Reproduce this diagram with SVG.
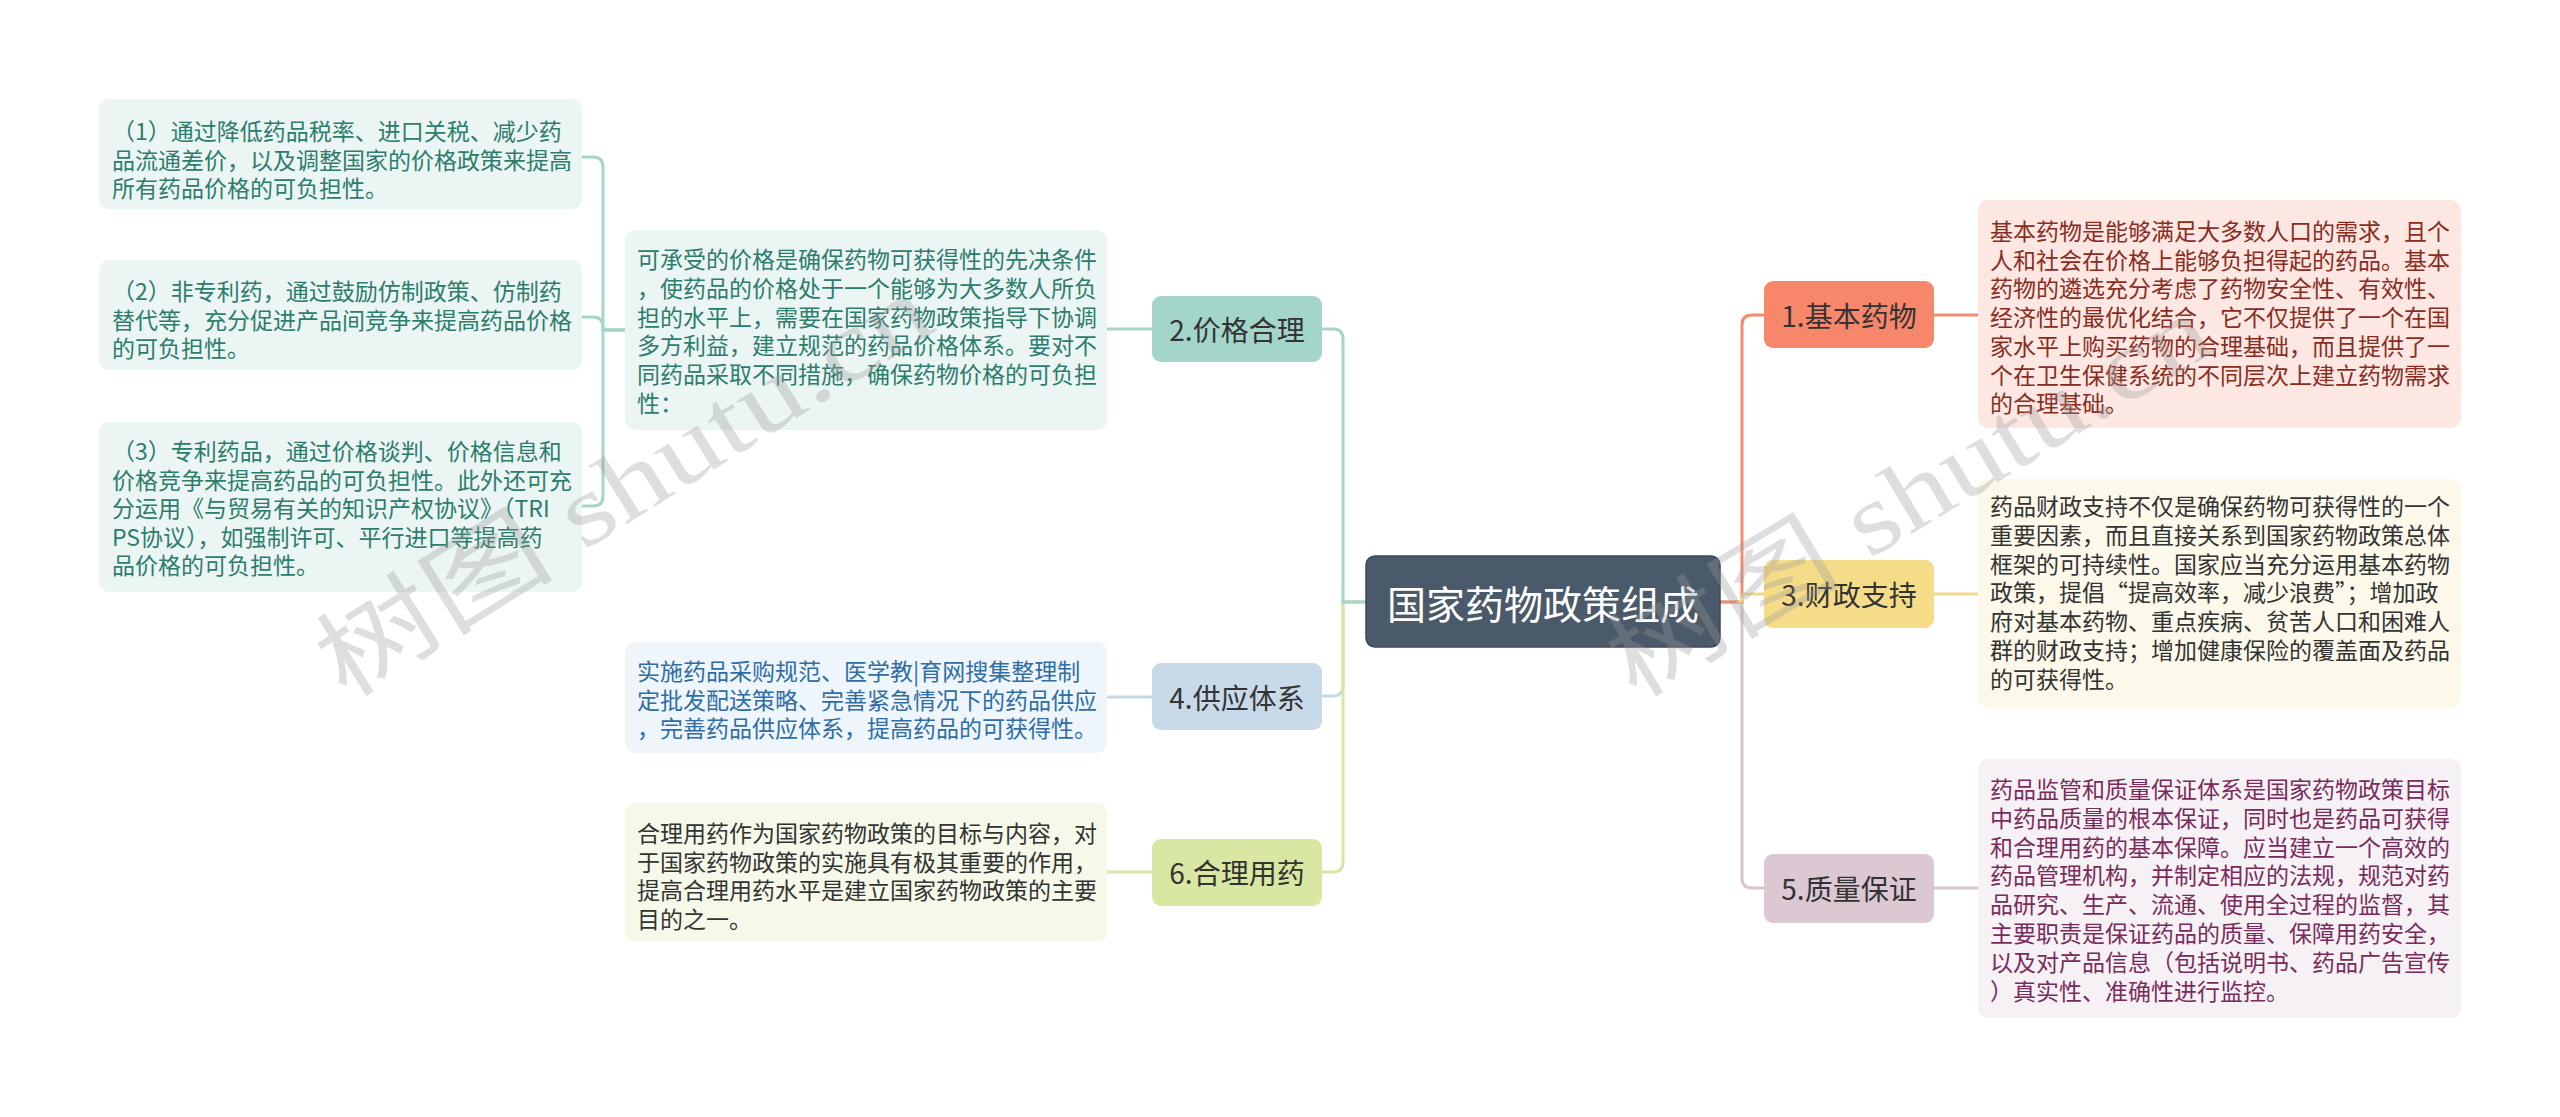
<svg xmlns="http://www.w3.org/2000/svg" width="2560" height="1117" viewBox="0 0 2560 1117">
<style>
text { font-family: "Noto Sans CJK SC", "Noto Sans", sans-serif; }
.d { font-size: 23px; dominant-baseline: central; }
.n { font-size: 28px; fill: #333; dominant-baseline: central; text-anchor: middle; }
.c { fill: none; stroke-width: 3; stroke-linecap: round; }
.wm { font-family: "Liberation Serif", "Noto Sans CJK SC", serif; font-size: 100px; fill: #9a9a9a; opacity: 0.32; }
</style>
<rect width="2560" height="1117" fill="#ffffff"/>

<g id="connectors">
  <path class="c" stroke="#c7d7e6" d="M1366,602 H1343 V686 Q1343,696 1333,696 H1322"/>
  <path class="c" stroke="#d9e7a5" d="M1366,602 H1343 V862 Q1343,872 1333,872 H1322"/>
  <path class="c" stroke="#a6d5cc" d="M1366,602 H1343 V339 Q1343,329 1333,329 H1322"/>
  <path class="c" stroke="#d8c5cf" d="M1720,602 H1742 V878 Q1742,888 1752,888 H1764"/>
  <path class="c" stroke="#f28b6f" d="M1720,602 H1742 V325 Q1742,315 1752,315 H1764"/>
  <path class="c" stroke="#f0d98a" d="M1738,602 Q1742,602 1742,598 Q1742,594 1746,594 H1764"/>
  <path class="c" stroke="#a6d5cc" d="M1107,329 H1152"/>
  <path class="c" stroke="#c7d7e6" d="M1107,697 H1152"/>
  <path class="c" stroke="#d9e7a5" d="M1107,872 H1152"/>
  <path class="c" stroke="#f28b6f" d="M1934,315 H1978"/>
  <path class="c" stroke="#f0d98a" d="M1934,594 H1978"/>
  <path class="c" stroke="#d8c5cf" d="M1934,888 H1978"/>
  <path class="c" stroke="#a6d5cc" d="M625,330 H603 V167 Q603,157 593,157 H582"/>
  <path class="c" stroke="#a6d5cc" d="M625,330 H603 V327 Q603,317 593,317 H582"/>
  <path class="c" stroke="#a6d5cc" d="M625,330 H603 V496 Q603,506 593,506 H582"/>
</g>

<g id="root">
  <rect x="1366" y="556" width="354" height="91" rx="9" fill="#4b5a6a" stroke="#3c4854" stroke-width="1.5"/>
  <text x="1543" y="602" font-size="39" fill="#ffffff" text-anchor="middle" dominant-baseline="central">国家药物政策组成</text>
</g>

<g id="node1">
  <rect x="1764" y="281" width="170" height="67" rx="9" fill="#f7876b"/>
  <text class="n" x="1849" y="315">1.基本药物</text>
</g>
<g id="detail1">
  <rect x="1978" y="200" width="483" height="228" rx="10" fill="#fde7e2"/>
  <text class="d" fill="#8a2c1e">
    <tspan x="1990" y="230">基本药物是能够满足大多数人口的需求，且个</tspan>
    <tspan x="1990" y="258.7">人和社会在价格上能够负担得起的药品。基本</tspan>
    <tspan x="1990" y="287.4">药物的遴选充分考虑了药物安全性、有效性、</tspan>
    <tspan x="1990" y="316.1">经济性的最优化结合，它不仅提供了一个在国</tspan>
    <tspan x="1990" y="344.8">家水平上购买药物的合理基础，而且提供了一</tspan>
    <tspan x="1990" y="373.5">个在卫生保健系统的不同层次上建立药物需求</tspan>
    <tspan x="1990" y="402.2">的合理基础。</tspan>
  </text>
</g>

<g id="node3">
  <rect x="1764" y="560" width="170" height="68" rx="9" fill="#f5dc88"/>
  <text class="n" x="1849" y="594">3.财政支持</text>
</g>
<g id="detail3">
  <rect x="1978" y="479" width="483" height="229" rx="10" fill="#fdf9ea"/>
  <text class="d" fill="#333333">
    <tspan x="1990" y="505">药品财政支持不仅是确保药物可获得性的一个</tspan>
    <tspan x="1990" y="533.8">重要因素，而且直接关系到国家药物政策总体</tspan>
    <tspan x="1990" y="562.6">框架的可持续性。国家应当充分运用基本药物</tspan>
    <tspan x="1990" y="591.4">政策，提倡“提高效率，减少浪费”；增加政</tspan>
    <tspan x="1990" y="620.2">府对基本药物、重点疾病、贫苦人口和困难人</tspan>
    <tspan x="1990" y="649">群的财政支持；增加健康保险的覆盖面及药品</tspan>
    <tspan x="1990" y="677.8">的可获得性。</tspan>
  </text>
</g>

<g id="node5">
  <rect x="1764" y="854" width="170" height="69" rx="9" fill="#dbc8d2"/>
  <text class="n" x="1849" y="888">5.质量保证</text>
</g>
<g id="detail5">
  <rect x="1978" y="759" width="483" height="259" rx="10" fill="#f6f1f4"/>
  <text class="d" fill="#7b2b5b">
    <tspan x="1990" y="788">药品监管和质量保证体系是国家药物政策目标</tspan>
    <tspan x="1990" y="816.8">中药品质量的根本保证，同时也是药品可获得</tspan>
    <tspan x="1990" y="845.6">和合理用药的基本保障。应当建立一个高效的</tspan>
    <tspan x="1990" y="874.4">药品管理机构，并制定相应的法规，规范对药</tspan>
    <tspan x="1990" y="903.2">品研究、生产、流通、使用全过程的监督，其</tspan>
    <tspan x="1990" y="932">主要职责是保证药品的质量、保障用药安全，</tspan>
    <tspan x="1990" y="960.8">以及对产品信息（包括说明书、药品广告宣传</tspan>
    <tspan x="1990" y="989.6">）真实性、准确性进行监控。</tspan>
  </text>
</g>

<g id="node2">
  <rect x="1152" y="296" width="170" height="66" rx="9" fill="#a3d5cb"/>
  <text class="n" x="1237" y="329">2.价格合理</text>
</g>
<g id="detail2">
  <rect x="625" y="230" width="482" height="200" rx="10" fill="#ebf5f3"/>
  <text class="d" fill="#2d7d6c">
    <tspan x="637" y="258">可承受的价格是确保药物可获得性的先决条件</tspan>
    <tspan x="637" y="286.8">，使药品的价格处于一个能够为大多数人所负</tspan>
    <tspan x="637" y="315.6">担的水平上，需要在国家药物政策指导下协调</tspan>
    <tspan x="637" y="344.4">多方利益，建立规范的药品价格体系。要对不</tspan>
    <tspan x="637" y="373.2">同药品采取不同措施，确保药物价格的可负担</tspan>
    <tspan x="637" y="402">性：</tspan>
  </text>
</g>

<g id="sub1">
  <rect x="99" y="99" width="483" height="110" rx="10" fill="#ebf5f3"/>
  <text class="d" fill="#2d7d6c">
    <tspan x="112" y="130">（1）通过降低药品税率、进口关税、减少药</tspan>
    <tspan x="112" y="158.7">品流通差价，以及调整国家的价格政策来提高</tspan>
    <tspan x="112" y="187.4">所有药品价格的可负担性。</tspan>
  </text>
</g>
<g id="sub2">
  <rect x="99" y="260" width="483" height="110" rx="10" fill="#ebf5f3"/>
  <text class="d" fill="#2d7d6c">
    <tspan x="112" y="290">（2）非专利药，通过鼓励仿制政策、仿制药</tspan>
    <tspan x="112" y="318.7">替代等，充分促进产品间竞争来提高药品价格</tspan>
    <tspan x="112" y="347.4">的可负担性。</tspan>
  </text>
</g>
<g id="sub3">
  <rect x="99" y="422" width="483" height="170" rx="10" fill="#ebf5f3"/>
  <text class="d" fill="#2d7d6c">
    <tspan x="112" y="450">（3）专利药品，通过价格谈判、价格信息和</tspan>
    <tspan x="112" y="478.5">价格竞争来提高药品的可负担性。此外还可充</tspan>
    <tspan x="112" y="507">分运用《与贸易有关的知识产权协议》（TRI</tspan>
    <tspan x="112" y="535.5">PS协议），如强制许可、平行进口等提高药</tspan>
    <tspan x="112" y="564">品价格的可负担性。</tspan>
  </text>
</g>

<g id="node4">
  <rect x="1152" y="663" width="170" height="67" rx="9" fill="#c8d9e9"/>
  <text class="n" x="1237" y="697">4.供应体系</text>
</g>
<g id="detail4">
  <rect x="625" y="642" width="482" height="111" rx="10" fill="#eef5fb"/>
  <text class="d" fill="#2f6da6">
    <tspan x="637" y="670">实施药品采购规范、医学教|育网搜集整理制</tspan>
    <tspan x="637" y="698.5">定批发配送策略、完善紧急情况下的药品供应</tspan>
    <tspan x="637" y="727">，完善药品供应体系，提高药品的可获得性。</tspan>
  </text>
</g>

<g id="node6">
  <rect x="1152" y="839" width="170" height="67" rx="9" fill="#d8e8a2"/>
  <text class="n" x="1237" y="872">6.合理用药</text>
</g>
<g id="detail6">
  <rect x="625" y="803" width="482" height="139" rx="10" fill="#f6f9ea"/>
  <text class="d" fill="#333333">
    <tspan x="637" y="832">合理用药作为国家药物政策的目标与内容，对</tspan>
    <tspan x="637" y="860.7">于国家药物政策的实施具有极其重要的作用，</tspan>
    <tspan x="637" y="889.4">提高合理用药水平是建立国家药物政策的主要</tspan>
    <tspan x="637" y="918.1">目的之一。</tspan>
  </text>
</g>

<g id="watermarks">
  <text class="wm" transform="translate(345,700) rotate(-32)" textLength="700" lengthAdjust="spacingAndGlyphs">树图 shutu.cn</text>
  <text class="wm" transform="translate(1635,700) rotate(-31)" textLength="680" lengthAdjust="spacingAndGlyphs">树图 shutu.cn</text>
</g>
</svg>
